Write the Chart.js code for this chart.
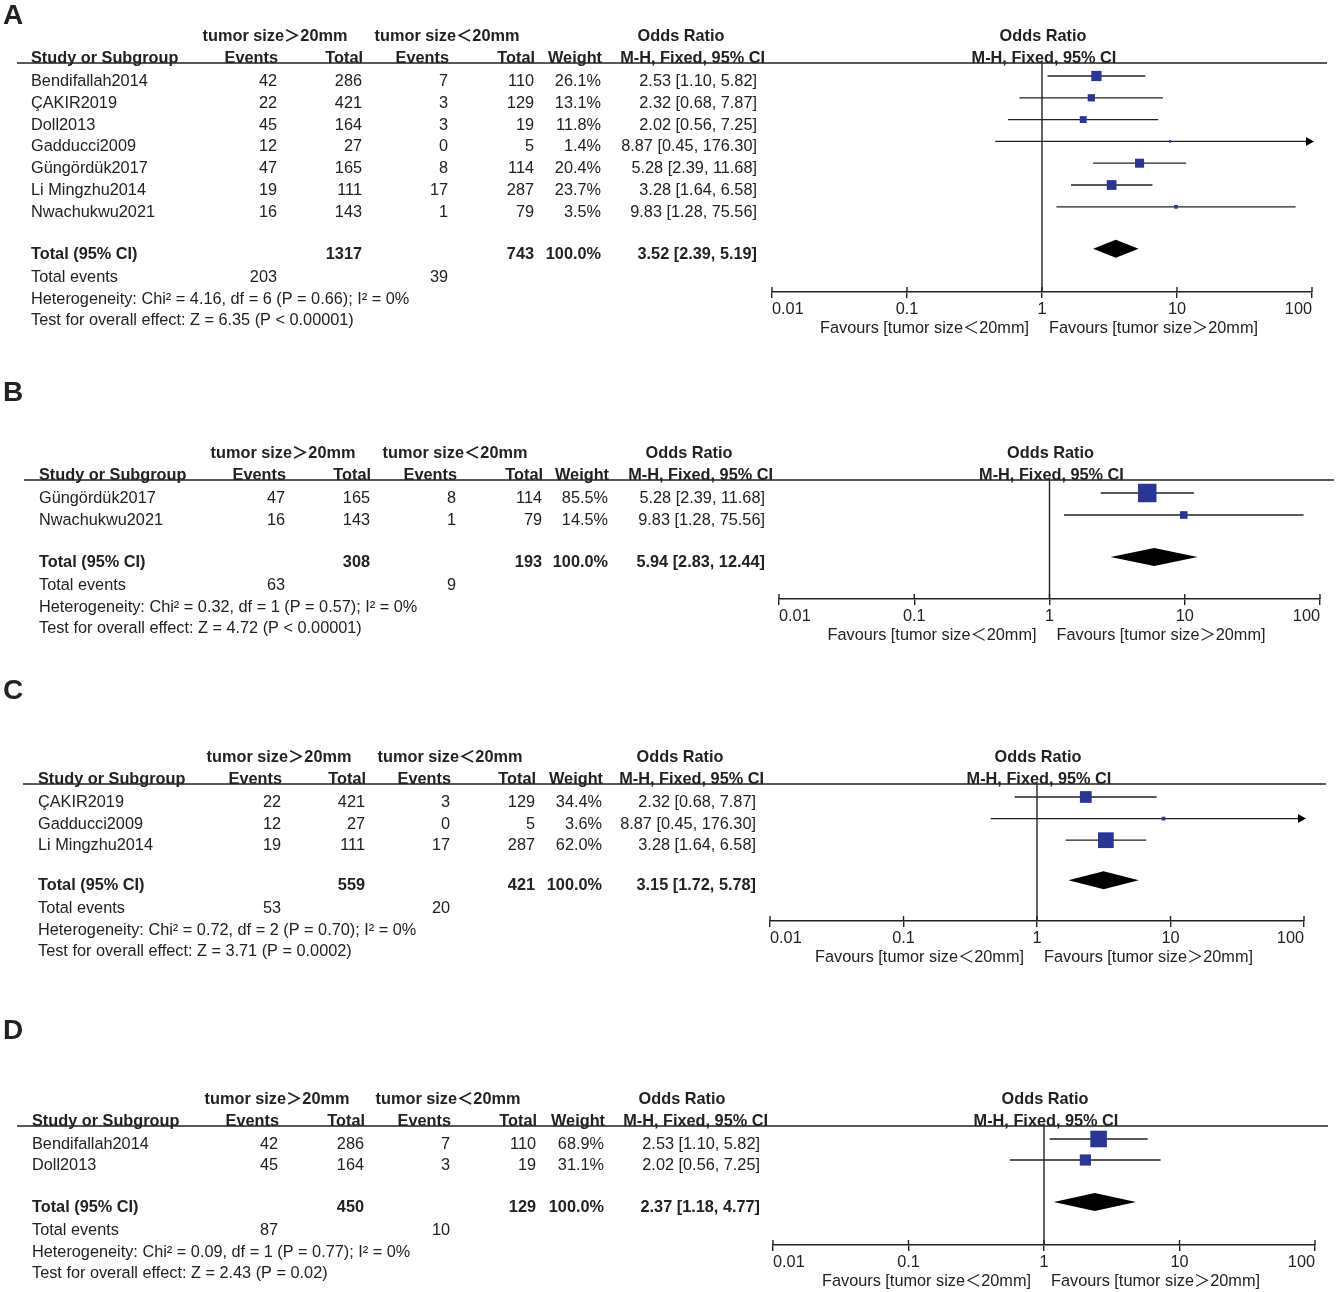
<!DOCTYPE html>
<html>
<head>
<meta charset="utf-8">
<script src="https://cdn.jsdelivr.net/npm/chart.js@4.4.1/dist/chart.umd.min.js"></script>
<style>
  html, body { margin: 0; padding: 0; background: #fff; }
  #page { position: relative; width: 1339px; height: 1292px; overflow: hidden; }
  #page canvas { position: absolute; left: 0; }
</style>
</head>
<body>
<div id="page"></div>
<script>
// ---- data: panel A (all studies)
const studiesA = ['Bendifallah2014', 'ÇAKIR2019', 'Doll2013', 'Gadducci2009', 'Güngördük2017', 'Li Mingzhu2014', 'Nwachukwu2021'];
const eventsBigA = [42, 22, 45, 12, 47, 19, 16];
const totalBigA = [286, 421, 164, 27, 165, 111, 143];
const eventsSmallA = [7, 3, 3, 0, 8, 17, 1];
const totalSmallA = [110, 129, 19, 5, 114, 287, 79];
const weightA = [26.1, 13.1, 11.8, 1.4, 20.4, 23.7, 3.5];
const orA = [2.53, 2.32, 2.02, 8.87, 5.28, 3.28, 9.83];
const loA = [1.10, 0.68, 0.56, 0.45, 2.39, 1.64, 1.28];
const hiA = [5.82, 7.87, 7.25, 176.30, 11.68, 6.58, 75.56];
const pooledA = [3.52, 2.39, 5.19];
const sumsA = [1317, 743];
const totEventsA = [203, 39];
const hetA = 'Heterogeneity: Chi² = 4.16, df = 6 (P = 0.66); I² = 0%';
const testA = 'Test for overall effect: Z = 6.35 (P < 0.00001)';

// ---- data: panel B
const studiesB = ['Güngördük2017', 'Nwachukwu2021'];
const eventsBigB = [47, 16];
const totalBigB = [165, 143];
const eventsSmallB = [8, 1];
const totalSmallB = [114, 79];
const weightB = [85.5, 14.5];
const orB = [5.28, 9.83];
const loB = [2.39, 1.28];
const hiB = [11.68, 75.56];
const pooledB = [5.94, 2.83, 12.44];
const sumsB = [308, 193];
const totEventsB = [63, 9];
const hetB = 'Heterogeneity: Chi² = 0.32, df = 1 (P = 0.57); I² = 0%';
const testB = 'Test for overall effect: Z = 4.72 (P < 0.00001)';

// ---- data: panel C
const studiesC = ['ÇAKIR2019', 'Gadducci2009', 'Li Mingzhu2014'];
const eventsBigC = [22, 12, 19];
const totalBigC = [421, 27, 111];
const eventsSmallC = [3, 0, 17];
const totalSmallC = [129, 5, 287];
const weightC = [34.4, 3.6, 62.0];
const orC = [2.32, 8.87, 3.28];
const loC = [0.68, 0.45, 1.64];
const hiC = [7.87, 176.30, 6.58];
const pooledC = [3.15, 1.72, 5.78];
const sumsC = [559, 421];
const totEventsC = [53, 20];
const hetC = 'Heterogeneity: Chi² = 0.72, df = 2 (P = 0.70); I² = 0%';
const testC = 'Test for overall effect: Z = 3.71 (P = 0.0002)';

// ---- data: panel D
const studiesD = ['Bendifallah2014', 'Doll2013'];
const eventsBigD = [42, 45];
const totalBigD = [286, 164];
const eventsSmallD = [7, 3];
const totalSmallD = [110, 19];
const weightD = [68.9, 31.1];
const orD = [2.53, 2.02];
const loD = [1.10, 0.56];
const hiD = [5.82, 7.25];
const pooledD = [2.37, 1.18, 4.77];
const sumsD = [450, 129];
const totEventsD = [87, 10];
const hetD = 'Heterogeneity: Chi² = 0.09, df = 1 (P = 0.77); I² = 0%';
const testD = 'Test for overall effect: Z = 2.43 (P = 0.02)';

// axis ticks
const xTickValues = [0.01, 0.1, 1, 10, 100];
const xTickLabels = ['0.01', '0.1', '1', '10', '100'];

const W = 1339;
const FONT = '"Liberation Sans", Arial, "Noto Sans CJK SC", sans-serif';
const INK = '#222';
const BOX = '#2b3593';
const FS = 16.3;

const panels = [
  { letter: 'A', studies: studiesA, ev1: eventsBigA, tot1: totalBigA, ev2: eventsSmallA, tot2: totalSmallA,
    weight: weightA, or: orA, lo: loA, hi: hiA, pooled: pooledA, sums: sumsA, totEvents: totEventsA, het: hetA, test: testA },
  { letter: 'B', studies: studiesB, ev1: eventsBigB, tot1: totalBigB, ev2: eventsSmallB, tot2: totalSmallB,
    weight: weightB, or: orB, lo: loB, hi: hiB, pooled: pooledB, sums: sumsB, totEvents: totEventsB, het: hetB, test: testB },
  { letter: 'C', studies: studiesC, ev1: eventsBigC, tot1: totalBigC, ev2: eventsSmallC, tot2: totalSmallC,
    weight: weightC, or: orC, lo: loC, hi: hiC, pooled: pooledC, sums: sumsC, totEvents: totEventsC, het: hetC, test: testC },
  { letter: 'D', studies: studiesD, ev1: eventsBigD, tot1: totalBigD, ev2: eventsSmallD, tot2: totalSmallD,
    weight: weightD, or: orD, lo: loD, hi: hiD, pooled: pooledD, sums: sumsD, totEvents: totEventsD, het: hetD, test: testD }
];

// page layout per panel (pixels)
const layouts = [
  { top: 0, height: 345, letterY: 15, y0: 80, rowH: 21.8, totalGap: 42, axisY: 292, ruleX0: 17, ruleX1: 1327, axisX0: 772, axisX1: 1312,
    col: { study: 31, ev1: 277, tot1: 362, ev2: 448, tot2: 534, wt: 601, or: 757, mh: 765, orHead: 681, grp1: 275, grp2: 447 } },
  { top: 345, height: 320, letterY: 392, y0: 497, rowH: 22, totalGap: 42, axisY: 599, ruleX0: 24, ruleX1: 1334, axisX0: 779, axisX1: 1320,
    col: { study: 39, ev1: 285, tot1: 370, ev2: 456, tot2: 542, wt: 608, or: 765, mh: 773, orHead: 689, grp1: 283, grp2: 455 } },
  { top: 665, height: 335, letterY: 690, y0: 801, rowH: 21.6, totalGap: 40, axisY: 921, ruleX0: 23, ruleX1: 1326, axisX0: 770, axisX1: 1304,
    col: { study: 38, ev1: 281, tot1: 365, ev2: 450, tot2: 535, wt: 602, or: 756, mh: 764, orHead: 680, grp1: 279, grp2: 450 } },
  { top: 1000, height: 292, letterY: 1030, y0: 1143, rowH: 21, totalGap: 42, axisY: 1245, ruleX0: 17, ruleX1: 1328, axisX0: 773, axisX1: 1315,
    col: { study: 32, ev1: 278, tot1: 364, ev2: 450, tot2: 536, wt: 604, or: 760, mh: 768, orHead: 682, grp1: 277, grp2: 448 } }
];

const fmtCI = (e, l, h) => `${e.toFixed(2)} [${l.toFixed(2)}, ${h.toFixed(2)}]`;

function forestPlugin(p, L) {
  const n = p.studies.length;
  const totalV = n - 1 + L.totalGap / L.rowH;
  return {
    id: 'forest' + p.letter,
    beforeDatasetsDraw(chart) {
      const ctx = chart.ctx, xs = chart.scales.x, ys = chart.scales.y, area = chart.chartArea;
      ctx.save();
      ctx.strokeStyle = INK;
      // rule under header
      ctx.lineWidth = 1.6;
      ctx.beginPath(); ctx.moveTo(L.ruleX0, area.top); ctx.lineTo(L.ruleX1, area.top); ctx.stroke();
      // line of no effect
      const x1 = xs.getPixelForValue(1);
      ctx.lineWidth = 1.4;
      ctx.beginPath(); ctx.moveTo(x1, area.top); ctx.lineTo(x1, area.bottom); ctx.stroke();
      // tick stubs above the axis
      xTickValues.forEach(v => {
        const x = xs.getPixelForValue(v);
        ctx.beginPath(); ctx.moveTo(x, area.bottom - 5); ctx.lineTo(x, area.bottom); ctx.stroke();
      });
      // confidence intervals
      ctx.lineWidth = 1.3;
      ctx.fillStyle = '#000';
      p.or.forEach((v, i) => {
        const y = ys.getPixelForValue(i);
        const xl = xs.getPixelForValue(Math.max(p.lo[i], xs.min));
        const xr = xs.getPixelForValue(Math.min(p.hi[i], xs.max));
        ctx.beginPath(); ctx.moveTo(xl, y); ctx.lineTo(xr, y); ctx.stroke();
        if (p.hi[i] > xs.max) {
          ctx.beginPath();
          ctx.moveTo(xr + 2, y); ctx.lineTo(xr - 6, y - 4.5); ctx.lineTo(xr - 6, y + 4.5);
          ctx.closePath(); ctx.fill();
        }
      });
      ctx.restore();
    },
    afterDatasetsDraw(chart) {
      const ctx = chart.ctx, xs = chart.scales.x, ys = chart.scales.y;
      const y = ys.getPixelForValue(totalV);
      const [e, l, h] = p.pooled;
      ctx.save();
      ctx.fillStyle = '#000';
      ctx.beginPath();
      ctx.moveTo(xs.getPixelForValue(l), y);
      ctx.lineTo(xs.getPixelForValue(e), y - 9);
      ctx.lineTo(xs.getPixelForValue(h), y);
      ctx.lineTo(xs.getPixelForValue(e), y + 9);
      ctx.closePath(); ctx.fill();
      ctx.restore();
    },
    afterDraw(chart) {
      const ctx = chart.ctx, xs = chart.scales.x, ys = chart.scales.y, area = chart.chartArea;
      const c = L.col;
      const ty = v => ys.getPixelForValue(v) + 5.5;
      const txt = (s, x, y, align, bold, size) => {
        ctx.font = (bold ? 'bold ' : '') + (size || FS) + 'px ' + FONT;
        ctx.textAlign = align;
        ctx.fillText(String(s), x, y);
      };
      ctx.save();
      ctx.fillStyle = INK;
      ctx.textBaseline = 'middle';

      txt(p.letter, 3, L.letterY - L.top + 1, 'left', true, 28);

      const h1 = ty(0) - 45, h2 = ty(0) - 23;
      txt('tumor size＞20mm', c.grp1, h1, 'center', true);
      txt('tumor size＜20mm', c.grp2, h1, 'center', true);
      txt('Odds Ratio', c.orHead, h1, 'center', true);
      txt('Study or Subgroup', c.study, h2, 'left', true);
      txt('Events', c.ev1 + 1, h2, 'right', true);
      txt('Total', c.tot1 + 1, h2, 'right', true);
      txt('Events', c.ev2 + 1, h2, 'right', true);
      txt('Total', c.tot2 + 1, h2, 'right', true);
      txt('Weight', c.wt + 1, h2, 'right', true);
      txt('M-H, Fixed, 95% CI', c.mh, h2, 'right', true);

      const x1 = xs.getPixelForValue(1);
      txt('Odds Ratio', x1 + 1, h1, 'center', true);
      txt('M-H, Fixed, 95% CI', x1 + 2, h2, 'center', true);

      p.studies.forEach((s, i) => {
        const y = ty(i);
        txt(s, c.study, y, 'left');
        txt(p.ev1[i], c.ev1, y, 'right');
        txt(p.tot1[i], c.tot1, y, 'right');
        txt(p.ev2[i], c.ev2, y, 'right');
        txt(p.tot2[i], c.tot2, y, 'right');
        txt(p.weight[i].toFixed(1) + '%', c.wt, y, 'right');
        txt(fmtCI(p.or[i], p.lo[i], p.hi[i]), c.or, y, 'right');
      });

      const yt = ty(totalV);
      txt('Total (95% CI)', c.study, yt, 'left', true);
      txt(p.sums[0], c.tot1, yt, 'right', true);
      txt(p.sums[1], c.tot2, yt, 'right', true);
      txt('100.0%', c.wt, yt, 'right', true);
      txt(fmtCI(p.pooled[0], p.pooled[1], p.pooled[2]), c.or, yt, 'right', true);

      txt('Total events', c.study, yt + 23, 'left');
      txt(p.totEvents[0], c.ev1, yt + 23, 'right');
      txt(p.totEvents[1], c.ev2, yt + 23, 'right');
      txt(p.het, c.study, yt + 45, 'left');
      txt(p.test, c.study, yt + 66, 'left');

      txt('Favours [tumor size＜20mm]', x1 - 13, area.bottom + 37, 'right');
      txt('Favours [tumor size＞20mm]', x1 + 7, area.bottom + 37, 'left');
      ctx.restore();
    }
  };
}

const page = document.getElementById('page');

panels.forEach((p, k) => {
  const L = layouts[k];
  const canvas = document.createElement('canvas');
  canvas.width = W;
  canvas.height = L.height;
  canvas.style.width = W + 'px';
  canvas.style.height = L.height + 'px';
  canvas.style.top = L.top + 'px';
  page.appendChild(canvas);

  const markY0 = L.y0 - 4;
  const ruleY = L.y0 - 17;
  const xAxisH = 40;

  new Chart(canvas, {
    type: 'scatter',
    data: {
      datasets: [{
        data: p.or.map((v, i) => ({ x: v, y: i })),
        pointStyle: 'rect',
        pointRadius: p.weight.map(w => Math.sqrt(2 * w)),
        pointHoverRadius: p.weight.map(w => Math.sqrt(2 * w)),
        backgroundColor: BOX,
        borderWidth: 0
      }]
    },
    options: {
      responsive: false,
      animation: false,
      events: [],
      layout: {
        padding: {
          left: L.axisX0,
          right: W - L.axisX1,
          top: ruleY - L.top,
          bottom: L.height - (L.axisY - L.top) - xAxisH
        }
      },
      plugins: { legend: { display: false }, tooltip: { enabled: false } },
      scales: {
        x: {
          type: 'logarithmic',
          min: 0.01,
          max: 100,
          afterBuildTicks: s => { s.ticks = xTickValues.map(v => ({ value: v })); },
          afterFit: s => { s.height = xAxisH; },
          ticks: {
            autoSkip: false, maxRotation: 0, align: 'inner', padding: 2, color: INK,
            font: { family: FONT, size: FS },
            callback: (v, i) => xTickLabels[i]
          },
          grid: { drawOnChartArea: false, drawTicks: true, tickLength: 6, color: INK, lineWidth: 1.4 },
          border: { display: true, color: INK, width: 1.6 }
        },
        y: {
          type: 'linear',
          display: false,
          reverse: true,
          min: (ruleY - markY0) / L.rowH,
          max: (L.axisY - markY0) / L.rowH
        }
      }
    },
    plugins: [forestPlugin(p, L)]
  });
});
</script>
</body>
</html>
